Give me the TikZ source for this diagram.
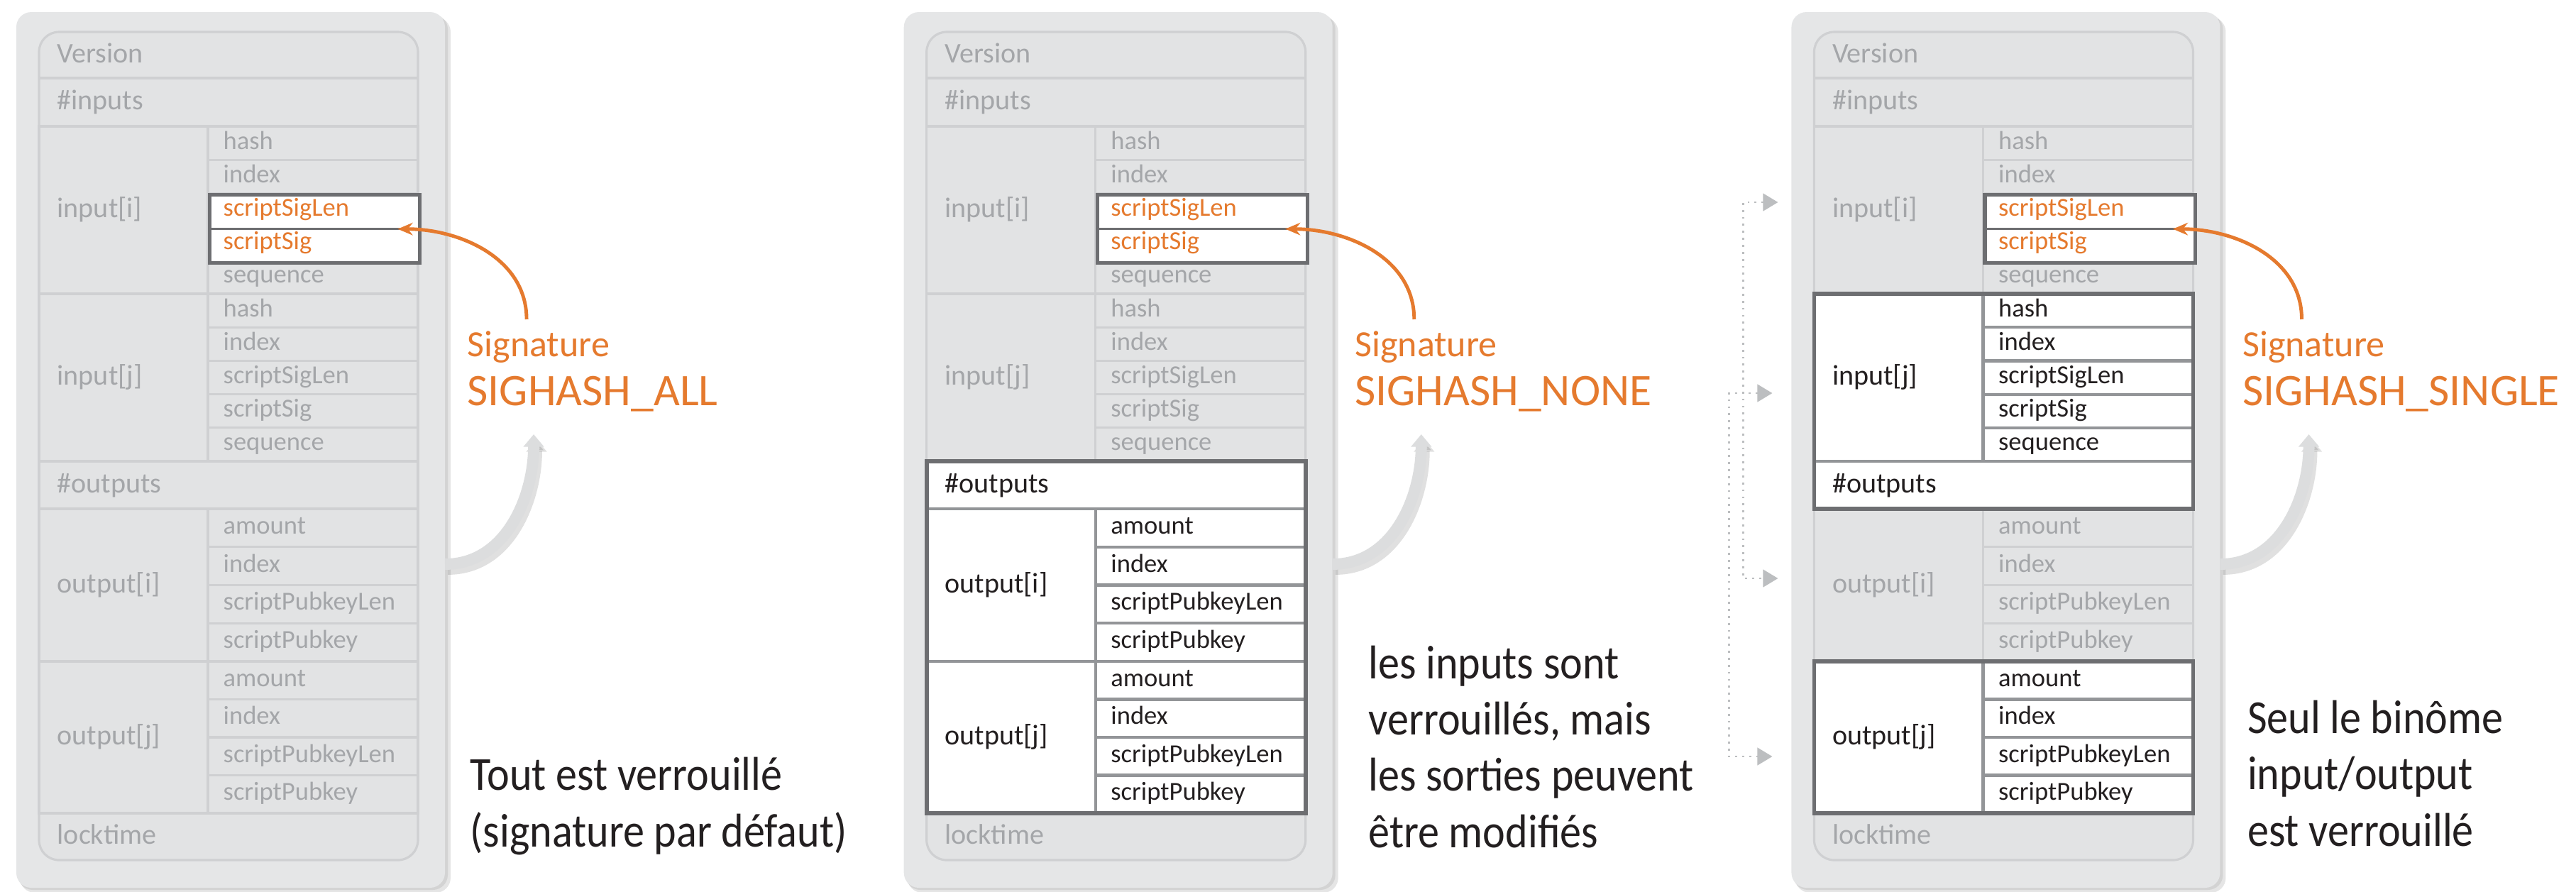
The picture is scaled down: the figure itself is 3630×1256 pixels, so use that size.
\documentclass[tikz,border=0pt]{standalone}
\usepackage{fontspec}
\setmainfont{Carlito}
\newfontfamily\descfont{Carlito}[FakeStretch=0.9]
\usetikzlibrary{arrows.meta}

\definecolor{panelgray}{HTML}{E5E6E7}
\definecolor{cellgray}{HTML}{E2E3E4}
\definecolor{rulegray}{HTML}{CFD0D2}
\definecolor{textgray}{HTML}{A4A6A9}
\definecolor{framedark}{HTML}{6D6E71}
\definecolor{ruledark}{HTML}{939598}
\definecolor{inkblack}{HTML}{231F20}
\definecolor{sigorange}{HTML}{E57A2E}
\definecolor{lockgray}{HTML}{DCDDDE}
\definecolor{tipgray}{HTML}{BCBEC0}

\tikzset{
  gray cell/.style={fill=cellgray, draw=rulegray, line width=0.9pt},
  white cell/.style={fill=white, draw=ruledark, line width=1.2pt},
  gray rule/.style={draw=rulegray, line width=0.9pt},
  white rule/.style={draw=ruledark, line width=1.2pt},
  gray label/.style={anchor=west, inner sep=0pt, text height=6pt, text depth=0pt,
    text=textgray, font=\fontsize{11.4}{13}\selectfont},
  white label/.style={gray label, text=inkblack},
  gray field/.style={anchor=west, inner sep=0pt, text height=4.8pt, text depth=0pt,
    text=textgray, font=\fontsize{10.4}{12}\selectfont},
  white field/.style={gray field, text=inkblack},
  sig field/.style={gray field, text=sigorange},
  hlbox/.style={anchor=north west, inner sep=0pt, minimum width=2.96cm, minimum height=0.96cm,
    fill=white, draw=framedark, line width=1.5pt},
  lockframe/.style={draw=framedark, line width=1.6pt},
  siglbl/.style={anchor=base west, inner sep=0pt, text=sigorange, font=\fontsize{14.8}{16}\selectfont},
  modelbl/.style={siglbl, font=\fontsize{18.1}{20}\selectfont},
  sigarrow/.style={draw=sigorange, line width=1.4pt, -{Stealth[length=6pt, width=5pt]}},
  lockarrow/.style={draw=lockgray, line width=4.5pt, -{Triangle[length=5pt, width=8pt]}},
  lockshadow/.style={lockarrow, draw=black, opacity=0.12},
  pairlink/.style={draw=tipgray, dotted, line width=0.8pt,
    {Triangle[length=6pt, width=7pt]}-{Triangle[length=6pt, width=7pt]}},
  desc/.style={anchor=base west, align=left, inner sep=0pt, text=inkblack,
    font=\descfont\fontsize{19}{22.5}\selectfont},
}

% one input or output with its fields: look, top, rows, row height, name, fields
\newcommand{\txblock}[6]{%
  \filldraw[#1 cell] (55,#2) rectangle (589,#2+#3*#4);
  \draw[#1 rule] (293,#2) -- (293,#2+#3*#4);
  \node[#1 label] at (80,#2+#3*#4/2) {#5};
  \foreach \f [count=\k from 0] in {#6} {
    \node[#1 field] at (314,#2+\k*#4+#4/2) {\f};
    \ifnum\k>0 \draw[#1 rule] (293,#2+\k*#4) -- (589,#2+\k*#4);\fi
  }
}

% one full-width row: look, top, bottom, name
\newcommand{\txrow}[4]{%
  \filldraw[#1 cell] (55,#2) rectangle (589,#3);
  \node[#1 label] at (80,#2/2+#3/2) {#4};
}

% a whole transaction: looks of input[i], input[j], #outputs, output[i], output[j], mode
\newcommand{\txpanel}[6]{%
  \fill[black, opacity=0.10, rounded corners=6pt] (28,24) rectangle (635,1258);
  \fill[black, opacity=0.08, rounded corners=6pt] (25,20) rectangle (631,1254);
  \fill[panelgray, rounded corners=6pt] (23,17) rectangle (627,1251);
  \filldraw[gray cell, rounded corners=8pt] (55,45) rectangle (589,1212);
  \draw[gray rule] (55,110) -- (589,110);
  \node[gray label] at (80,77.5) {Version};
  \node[gray label] at (80,144) {\#inputs};
  \node[gray label] at (80,1179) {locktime};
  \txblock{#1}{178}{5}{47.2}{input[i]}{hash,index,scriptSigLen,scriptSig,sequence}
  \txblock{#2}{414}{5}{47.2}{input[j]}{hash,index,scriptSigLen,scriptSig,sequence}
  \txrow{#3}{650}{717}{\#outputs}
  \txblock{#4}{717}{4}{53.75}{output[i]}{amount,index,scriptPubkeyLen,scriptPubkey}
  \txblock{#5}{932}{4}{53.5}{output[j]}{amount,index,scriptPubkeyLen,scriptPubkey}
  % signed fields
  \node[hlbox] (hl) at (293,272) {};
  \draw[framedark, line width=0.8pt] (hl.west) -- (hl.east);
  \node[sig field] at (314,296) {scriptSigLen};
  \node[sig field] at (314,343.5) {scriptSig};
  % signature label and arrows
  \node[siglbl] (sig) at (658,502) {Signature};
  \node[modelbl] (mode) at (658,571) {#6};
  \coordinate (edge) at (627,795);
  \draw[sigarrow] ([xshift=0.84cm, yshift=0.52cm]sig.base west) to[out=90, in=0] ([xshift=-0.34cm]hl.east);
  \draw[lockshadow, transform canvas={shift={(4,7)}}] (edge) to[out=0, in=-90] ([xshift=0.94cm, yshift=-0.41cm]mode.base west);
  \draw[lockarrow] (edge) to[out=0, in=-90] ([xshift=0.94cm, yshift=-0.41cm]mode.base west);
}

\begin{document}
\begin{tikzpicture}[x=0.01cm, y=-0.01cm]
  \useasboundingbox (0,0) rectangle (3630,1256);
  \fill[white] (0,0) rectangle (3630,1256);
  % SIGHASH_ALL
  \begin{scope}[name prefix=all-]
    \txpanel{gray}{gray}{gray}{gray}{gray}{SIGHASH\_ALL}
    \node[desc] (note) at (662,1193) {Tout est verrouillé\\(signature par défaut)};
  \end{scope}
  % SIGHASH_NONE
  \begin{scope}[xshift=12.5cm, name prefix=none-]
    \txpanel{gray}{gray}{white}{white}{white}{SIGHASH\_NONE}
    \draw[lockframe] (55,650) rectangle (589,1146);
    \node[desc] (note) at (677,1194) {les inputs sont\\verrouillés, mais\\les sorties peuvent\\être modifiés};
  \end{scope}
  % SIGHASH_SINGLE
  \begin{scope}[xshift=25cm, name prefix=single-]
    \txpanel{gray}{white}{white}{gray}{white}{SIGHASH\_SINGLE}
    \draw[lockframe] (55,414) rectangle (589,717);
    \draw[lockframe] (55,932) rectangle (589,1146);
    \node[desc] (note) at (665,1192) {Seul le binôme\\input/output\\est verrouillé};
    % input/output pairs
    \coordinate (ini) at (4,285);
    \coordinate (outi) at (4,815);
    \coordinate (inj) at (-4,554);
    \coordinate (outj) at (-4,1066);
    \draw[pairlink] (ini) -- ++(-49,0) |- (outi);
    \draw[pairlink] (inj) -- ++(-61,0) |- (outj);
  \end{scope}
\end{tikzpicture}
\end{document}
